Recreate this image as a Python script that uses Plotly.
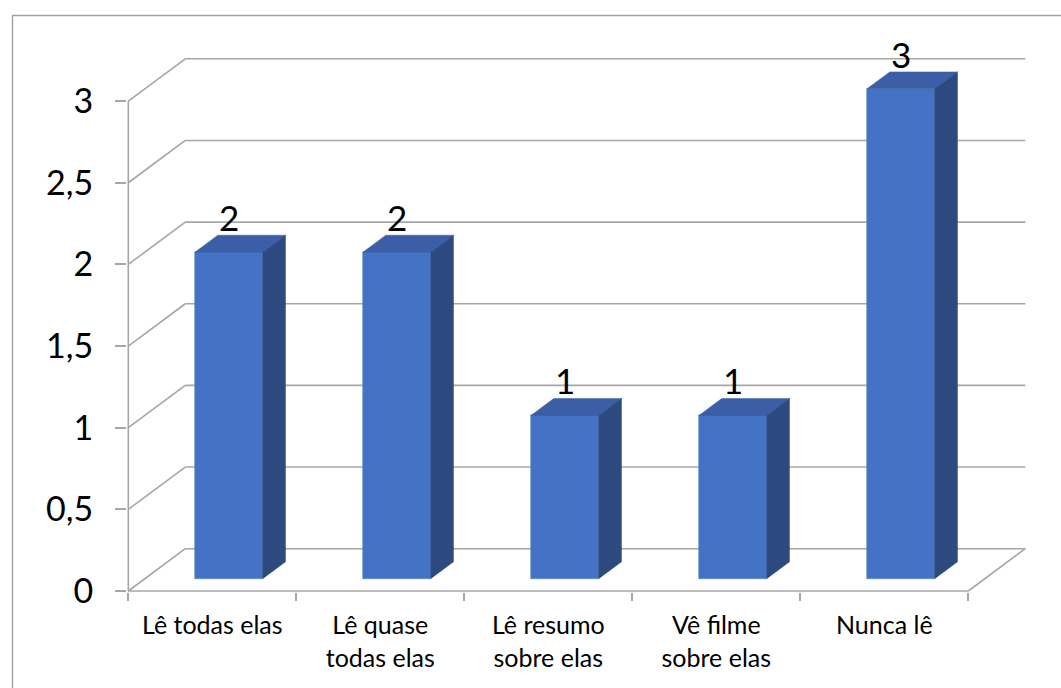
import plotly.graph_objects as go

# ---- data -------------------------------------------------------------
categories = [
    "Lê todas elas",
    "Lê quase<br>todas elas",
    "Lê resumo<br>sobre elas",
    "Vê filme<br>sobre elas",
    "Nunca lê",
]
values = [2, 2, 1, 1, 3]
y_ticks = [0, 0.5, 1, 1.5, 2, 2.5, 3]

# ---- page geometry ----------------------------------------------------
FIG_W, FIG_H = 1061, 688
M_L, M_R, M_T, M_B = 127, 24, 30, 96
PX_PER_CAT = 168.0      # horizontal pixels per category
PX_PER_UNIT = 163.3     # vertical pixels per value unit
plot_w = FIG_W - M_L - M_R
plot_h = FIG_H - M_T - M_B
x_lo = -0.5 - 1.3 / PX_PER_CAT
y_lo = -1.0 / PX_PER_UNIT
x_range = [x_lo, x_lo + plot_w / PX_PER_CAT]
y_range = [y_lo, y_lo + plot_h / PX_PER_UNIT]

# pseudo-3D depth of the floor (front plane -> back wall), in axis units
DEPTH_X = 57.0 / PX_PER_CAT
DEPTH_Y = 42.3 / PX_PER_UNIT
BAR_FRONT, BAR_BACK = 0.29, 0.69      # fraction of the depth the columns occupy
BAR_W = 67.7 / PX_PER_CAT

GRID = "#A6A6A6"
FRONT = "#4472C4"
TOP = "#3B5EA6"
SIDE = "#2D4A80"
FONT = "Lato"

n = len(categories)
idx = list(range(n))
x_left_edge = -0.5
x_right_edge = n - 0.5

# ---- column geometry derived from the values --------------------------
base = BAR_FRONT * DEPTH_Y
shift_x = BAR_FRONT * DEPTH_X
dep_x = (BAR_BACK - BAR_FRONT) * DEPTH_X
dep_y = (BAR_BACK - BAR_FRONT) * DEPTH_Y
centers = [i + shift_x for i in idx]

top_x, top_y, side_x, side_y = [], [], [], []
for c, v in zip(centers, values):
    xl, xr = c - BAR_W / 2, c + BAR_W / 2
    h = base + v
    top_x += [xl, xr, xr + dep_x, xl + dep_x, xl, None]
    top_y += [h, h, h + dep_y, h + dep_y, h, None]
    side_x += [xr, xr + dep_x, xr + dep_x, xr, xr, None]
    side_y += [base, base + dep_y, h + dep_y, h, base, None]

fig = go.Figure()

# front faces of the columns
fig.add_trace(go.Bar(
    x=centers, y=values, base=base, width=BAR_W,
    marker=dict(color=FRONT, line=dict(color="#5B86D0", width=0.6)),
    hoverinfo="skip", showlegend=False,
))
# top faces
fig.add_trace(go.Scatter(
    x=top_x, y=top_y, mode="lines", fill="toself", fillcolor=TOP,
    line=dict(color=TOP, width=0.5), hoverinfo="skip", showlegend=False,
))
# right-hand side faces
fig.add_trace(go.Scatter(
    x=side_x, y=side_y, mode="lines", fill="toself", fillcolor=SIDE,
    line=dict(color=SIDE, width=0.5), hoverinfo="skip", showlegend=False,
))

# ---- back wall, side wall and floor ------------------------------------
shapes = []


def seg(x0, y0, x1, y1):
    shapes.append(dict(type="line", xref="x", yref="y", x0=x0, y0=y0, x1=x1, y1=y1,
                       line=dict(color=GRID, width=1.6), layer="below"))


for v in y_ticks:
    seg(x_left_edge, v, x_left_edge + DEPTH_X, v + DEPTH_Y)
    seg(x_left_edge + DEPTH_X, v + DEPTH_Y, x_right_edge + DEPTH_X, v + DEPTH_Y)
seg(x_left_edge, 0, x_right_edge, 0)
seg(x_right_edge, 0, x_right_edge + DEPTH_X, DEPTH_Y)
seg(x_left_edge, 0, x_left_edge, max(y_ticks))

# outer chart frame
def px_to_paper_x(px):
    return (px - M_L) / plot_w


def px_to_paper_y(py):
    return (FIG_H - M_B - py) / plot_h


shapes.append(dict(
    type="path", xref="paper", yref="paper",
    path=(f"M {px_to_paper_x(12.5)},{px_to_paper_y(FIG_H + 5)} "
          f"L {px_to_paper_x(12.5)},{px_to_paper_y(15.5)} "
          f"L {px_to_paper_x(FIG_W + 5)},{px_to_paper_y(15.5)}"),
    line=dict(color="#A0A0A0", width=1.4), layer="below",
))

# value labels above each column
annotations = []
for c, v in zip(centers, values):
    annotations.append(dict(
        x=c, y=base + v, xref="x", yref="y", text=str(v), showarrow=False,
        yanchor="bottom", xanchor="center", yshift=13, borderpad=0,
        font=dict(family=FONT, size=35, color="black"),
    ))

fig.update_layout(
    width=FIG_W, height=FIG_H,
    margin=dict(l=M_L, r=M_R, t=M_T, b=M_B, pad=0),
    paper_bgcolor="white", plot_bgcolor="white",
    separators=",.",
    bargap=0,
    shapes=shapes,
    annotations=annotations,
    xaxis=dict(
        range=x_range, showgrid=False, zeroline=False, showline=False,
        tickmode="array", tickvals=idx, ticktext=categories, ticks="",
        tickfont=dict(family=FONT, size=25, color="black"),
        ticklabelstandoff=16,
        minor=dict(tickmode="array", tickvals=[i - 0.5 for i in range(n + 1)],
                   ticks="outside", ticklen=8, tickwidth=1.6, tickcolor=GRID),
        fixedrange=True,
    ),
    yaxis=dict(
        range=y_range, showgrid=False, zeroline=False, showline=False,
        tickmode="array", tickvals=y_ticks, ticks="outside", ticklen=11,
        tickwidth=1.6, tickcolor=GRID,
        tickfont=dict(family=FONT, size=34, color="black"),
        ticklabelstandoff=15,
        fixedrange=True,
    ),
)

fig.write_html("out.html")
